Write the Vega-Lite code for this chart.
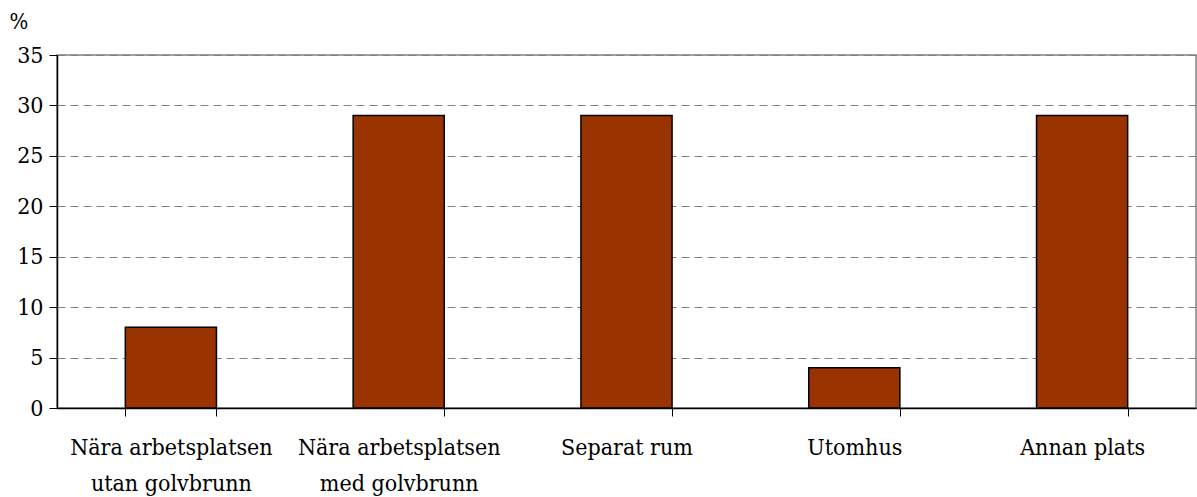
{
  "$schema": "https://vega.github.io/schema/vega-lite/v6.json",
  "width": 1139,
  "height": 353,
  "autosize": "none",
  "padding": {"left": 57, "top": 55, "right": 1, "bottom": 89},
  "background": "white",
  "config": {
    "font": "DejaVu Serif Condensed, DejaVu Serif",
    "view": {"stroke": "#808080", "strokeWidth": 1.5}
  },
  "data": {
    "values": [
      {"plats": "Nära arbetsplatsen|utan golvbrunn", "andel": 8},
      {"plats": "Nära arbetsplatsen|med golvbrunn", "andel": 29},
      {"plats": "Separat rum", "andel": 29},
      {"plats": "Utomhus", "andel": 4},
      {"plats": "Annan plats", "andel": 29}
    ]
  },
  "mark": {"type": "bar", "color": "#993300", "stroke": "black", "strokeWidth": 1.5},
  "encoding": {
    "x": {
      "field": "plats",
      "type": "nominal",
      "sort": null,
      "scale": {"paddingInner": 0.6, "paddingOuter": 0.3},
      "axis": {
        "title": null,
        "labelAngle": 0,
        "labelExpr": "split(datum.label, '|')",
        "labelFont": "DejaVu Serif Condensed, DejaVu Serif",
        "labelFontSize": 23,
        "labelLimit": 0,
        "labelColor": "black",
        "labelLineHeight": 36,
        "labelPadding": 20,
        "labelBaseline": "top",
        "tickBand": "extent",
        "tickSize": 8,
        "tickColor": "black",
        "domainColor": "black",
        "domainWidth": 1.5,
        "grid": false
      }
    },
    "y": {
      "field": "andel",
      "type": "quantitative",
      "scale": {"domain": [0, 35]},
      "axis": {
        "values": [0, 5, 10, 15, 20, 25, 30, 35],
        "title": "%",
        "titleAngle": 0,
        "titleFont": "DejaVu Serif Condensed, DejaVu Serif",
        "titleFontSize": 22,
        "titleFontWeight": "normal",
        "titleAlign": "left",
        "titleBaseline": "alphabetic",
        "titleX": -48,
        "titleY": -27,
        "labelFont": "DejaVu Serif Condensed, DejaVu Serif",
        "labelFontSize": 23,
        "labelColor": "black",
        "labelPadding": 6,
        "tickSize": 8,
        "tickColor": "black",
        "domainColor": "black",
        "domainWidth": 1.5,
        "grid": true,
        "gridColor": "#808080",
        "gridDash": [8, 5],
        "gridWidth": 1
      }
    }
  }
}
